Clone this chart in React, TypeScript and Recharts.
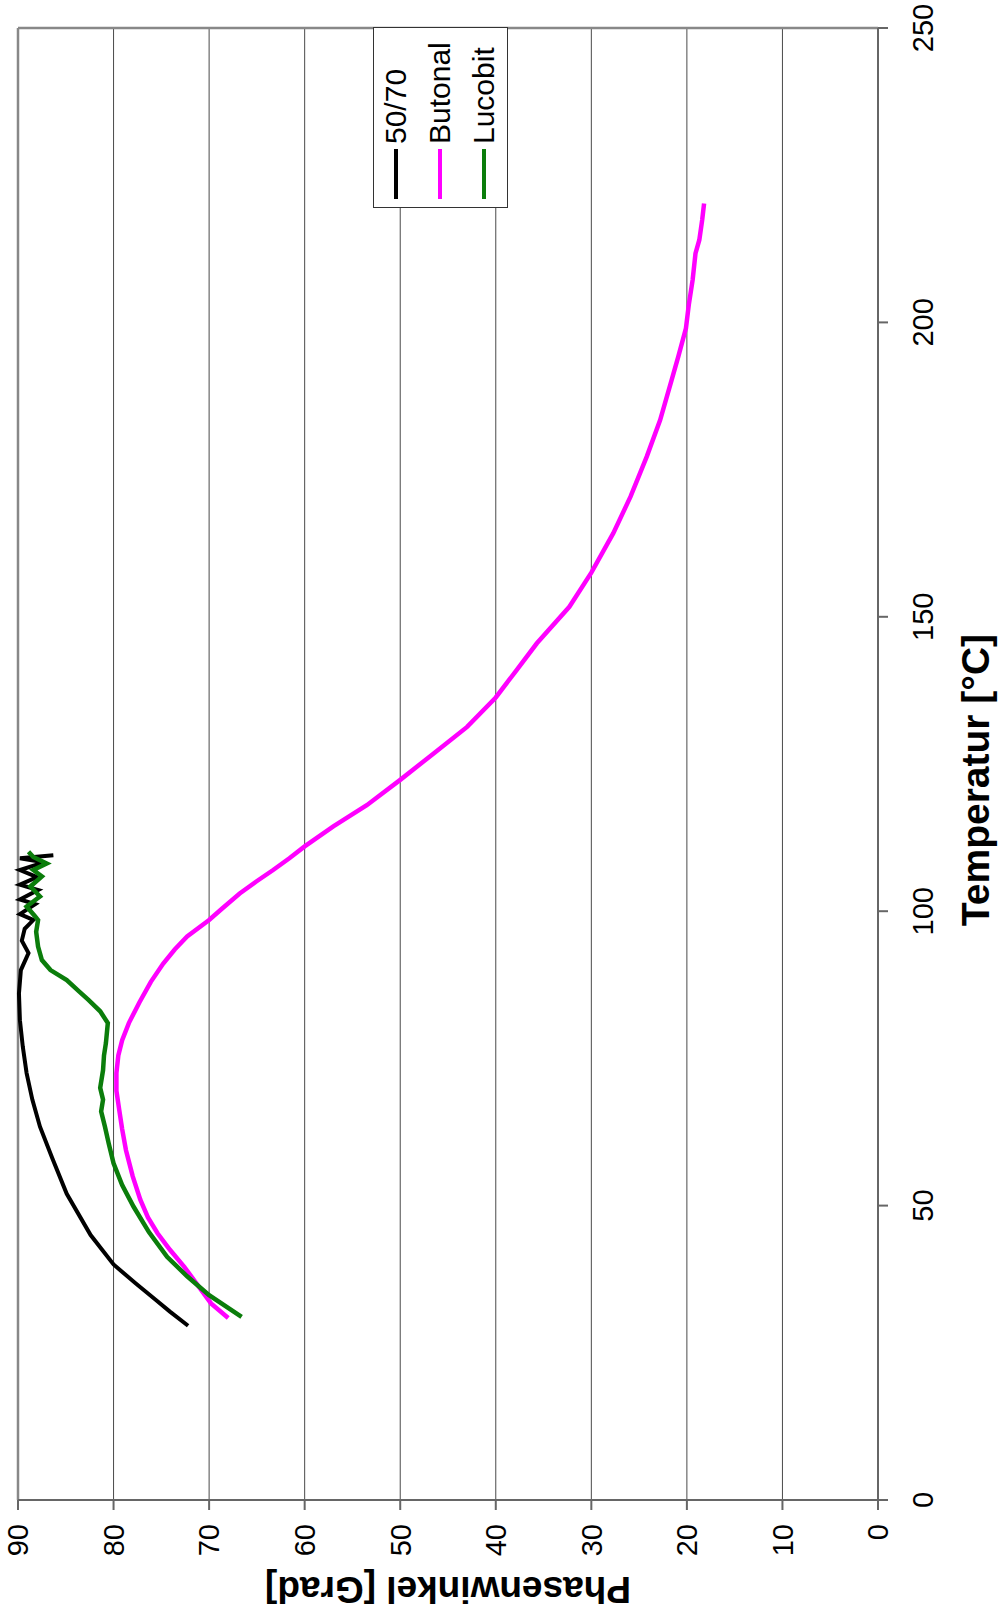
import React from 'react';
import { LineChart, Line, XAxis, YAxis, CartesianGrid, ReferenceLine, Legend } from 'recharts';

const tempTicks = [0, 50, 100, 150, 200, 250];
const phaseTicks = [0, 10, 20, 30, 40, 50, 60, 70, 80, 90];

// 50/70
const bitumenTemp = [29.6, 32, 34, 36.8, 40, 45, 52, 58, 63.4, 68, 72.5, 77, 81.5, 86, 90, 92.9, 95, 97, 98.5, 99.5, 101.2, 102, 103.6, 104.5, 105.8, 107, 108.3, 109, 109.5];
const bitumenPhase = [72.2, 74.1, 75.6, 77.7, 80.0, 82.4, 84.9, 86.4, 87.7, 88.5, 89.1, 89.5, 89.8, 89.9, 89.7, 88.9, 89.6, 89.3, 88.4, 89.8, 88.2, 89.8, 87.9, 89.8, 88.0, 89.8, 87.3, 89.8, 86.3];

// Butonal
const butonalTemp = [30.9, 33.4, 36.5, 39.6, 42.5, 45.3, 48, 51, 55, 59.4, 63, 66.2, 69.5, 72.5, 75.5, 78.1, 81, 84.5, 88, 91.1, 93.5, 95.7, 98.5, 100.5, 103, 105, 107, 109, 111, 114.4, 118, 122.3, 126.8, 131.3, 136.3, 141, 145.5, 151.7, 157.5, 164.2, 170.4, 177.2, 183.4, 190.2, 194.2, 199, 203, 207.2, 211.7, 214, 217.4, 220.2];
const butonalPhase = [68.0, 69.8, 71.2, 72.6, 74.1, 75.4, 76.4, 77.2, 78.0, 78.7, 79.1, 79.4, 79.7, 79.7, 79.5, 79.1, 78.4, 77.3, 76.1, 74.8, 73.6, 72.3, 70.0, 68.6, 66.8, 65.1, 63.3, 61.6, 60.0, 57.0, 53.5, 50.0, 46.5, 43.0, 40.0, 37.8, 35.7, 32.3, 30.0, 27.7, 25.9, 24.2, 22.8, 21.6, 20.9, 20.1, 19.8, 19.4, 19.1, 18.7, 18.4, 18.2];

// Lucobit
const lucobitTemp = [31.1, 34.8, 38, 41.3, 45.5, 49.8, 53.5, 57.2, 60.5, 63.4, 66, 68, 70, 73, 75.5, 77.6, 81, 83, 84.9, 86.5, 88.3, 90, 91.7, 94, 96.5, 98.5, 99.1, 100.8, 102.5, 104.2, 105.9, 107, 108.1, 109.2, 110.1];
const lucobitPhase = [66.6, 70.0, 72.3, 74.4, 76.3, 77.9, 79.1, 80.0, 80.5, 80.9, 81.3, 81.1, 81.4, 81.1, 81.0, 80.8, 80.6, 81.4, 82.6, 83.7, 84.9, 86.6, 87.5, 87.9, 88.1, 87.9, 88.2, 89.1, 87.7, 88.7, 87.5, 88.4, 87.0, 88.4, 88.9];

const toPoints = (ts: number[], ps: number[]) => ts.map((t, i) => ({ t, p: ps[i] }));

const series = [
  { name: '50/70', color: '#000000', width: 4, data: toPoints(bitumenTemp, bitumenPhase) },
  { name: 'Butonal', color: '#ff00ff', width: 4.5, data: toPoints(butonalTemp, butonalPhase) },
  { name: 'Lucobit', color: '#0b7d0b', width: 4.5, data: toPoints(lucobitTemp, lucobitPhase) },
];

// the chart is drawn as a normal landscape chart and then turned 90deg counter-clockwise
const W = 1612;
const H = 1001;
const FONT = '"Liberation Sans", Arial, sans-serif';

function LegendBox() {
  return (
    <div
      style={{
        boxSizing: 'border-box',
        width: 181,
        height: 135,
        border: '1px solid #333',
        background: '#fff',
        fontFamily: FONT,
        fontSize: 30,
        color: '#000',
      }}
    >
      {series.map((s) => (
        <div key={s.name} style={{ height: 44, display: 'flex', alignItems: 'center' }}>
          <div style={{ width: 50, height: 4, marginLeft: 8, marginRight: 5, background: s.color }} />
          <span>{s.name}</span>
        </div>
      ))}
    </div>
  );
}

export default function App() {
  return (
    <div style={{ position: 'absolute', left: 0, top: 0, width: H, height: W, overflow: 'hidden', background: '#fff' }}>
      <div style={{ width: W, height: H, transform: `translateY(${W}px) rotate(-90deg)`, transformOrigin: '0 0' }}>
        <LineChart width={W} height={H} margin={{ top: 18, right: 28, bottom: 0, left: 0 }} style={{ fontFamily: FONT }}>
          <CartesianGrid vertical={false} stroke="#4a4a4a" strokeWidth={1} />
          <XAxis
            type="number"
            dataKey="t"
            domain={[0, 250]}
            ticks={tempTicks}
            height={123}
            tickSize={10}
            tickMargin={24}
            stroke="#666"
            axisLine={{ stroke: '#666', strokeWidth: 2 }}
            tickLine={{ stroke: '#666', strokeWidth: 2 }}
            tick={{ fontSize: 29, fill: '#000', fontFamily: FONT }}
            label={() => (
              <text x={832} y={989} textAnchor="middle" fontSize={39} fontWeight="bold" fill="#000" fontFamily={FONT}>
                Temperatur [°C]
              </text>
            )}
          />
          <YAxis
            type="number"
            dataKey="p"
            domain={[0, 90]}
            ticks={phaseTicks}
            width={112}
            tickSize={10}
            tickMargin={14}
            stroke="#666"
            axisLine={{ stroke: '#666', strokeWidth: 2 }}
            tickLine={{ stroke: '#666', strokeWidth: 2 }}
            tick={{ fontSize: 29, fill: '#000', fontFamily: FONT }}
            label={() => (
              <text
                x={35}
                y={448}
                transform="rotate(-90 35 448)"
                textAnchor="middle"
                fontSize={37}
                fontWeight="bold"
                fill="#000"
                fontFamily={FONT}
              >
                Phasenwinkel [Grad]
              </text>
            )}
          />
          <ReferenceLine y={90} stroke="#888" strokeWidth={2.5} />
          <ReferenceLine x={250} stroke="#888" strokeWidth={2.5} />
          {series.map((s) => (
            <Line
              key={s.name}
              data={s.data}
              dataKey="p"
              name={s.name}
              type="linear"
              stroke={s.color}
              strokeWidth={s.width}
              dot={false}
              isAnimationActive={false}
            />
          ))}
          <Legend
            layout="vertical"
            align="center"
            verticalAlign="middle"
            content={() => <LegendBox />}
            wrapperStyle={{ left: 1404, top: 373, width: 181, height: 135 }}
          />
        </LineChart>
      </div>
    </div>
  );
}
